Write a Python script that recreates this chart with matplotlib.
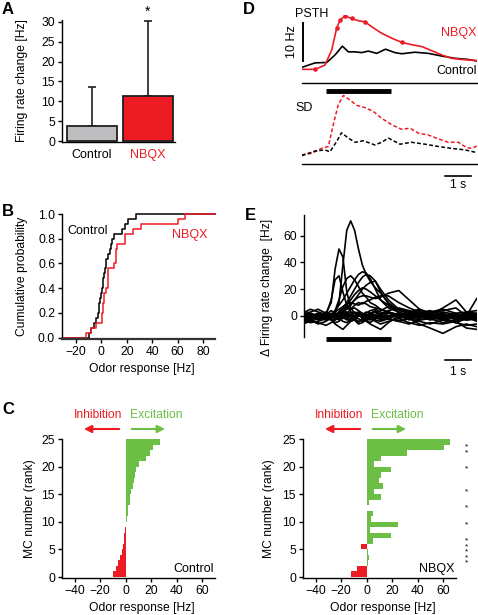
import numpy as np
import matplotlib
matplotlib.use('Agg')
import matplotlib.pyplot as plt

plt.rcParams['font.family'] = ['Liberation Sans', 'DejaVu Sans']
plt.rcParams['font.size'] = 8.7
plt.rcParams['axes.linewidth'] = 1.0
plt.rcParams['xtick.major.width'] = 1.0
plt.rcParams['ytick.major.width'] = 1.0
plt.rcParams['xtick.major.size'] = 3
plt.rcParams['ytick.major.size'] = 3

RED = '#ED1C24'
GREEN = '#6CBE45'
GREY = '#BEBEC0'

# ---- data ----
# A: mean firing rate change + upper error
groups = ['Control', 'NBQX']
rate_mean = [3.8, 11.3]
rate_err = [9.9, 19.0]

# C (and B): odor responses per MC, ranked by control response
ctrl_resp = [-10, -8, -6, -4.5, -3, -2, -1.5, -1, -0.5, 0.3, 1, 1.5, 2, 3,
             3.5, 4, 5.5, 6.5, 7.5, 8, 10, 16, 19, 21, 27]
nbqx_resp = [-12.3, -8, 0.8, 2, 1, -4.6, 4.9, 18.7, 2.3, 24.6, 3.3, 4.9, 0.3,
             1.5, 11.3, 5.4, 12.5, 9.7, 11.5, 19, 5.4, 11.5, 31.5, 60.4, 65.5]
nbqx_sig_rank = [2, 3, 4, 5, 6, 9, 12, 15, 19, 22, 23]

# D: PSTH and SD (Hz) vs time (s, odor onset at 0)
ctrl_t = [-0.93, -0.42, 0.03, 0.35, 0.63, 0.86, 1.12, 1.37, 1.63, 1.95, 2.29,
          2.65, 2.91, 3.42, 3.94, 4.45, 4.96, 5.47, 5.8]
ctrl_psth = [4.1, 5.3, 5.4, 7.4, 9.7, 8.2, 8.2, 8.0, 8.4, 7.8, 8.9, 8.0, 7.7,
             8.1, 7.8, 7.1, 6.5, 6.2, 5.8]
nbqx_t = [-0.93, -0.42, -0.04, 0.22, 0.41, 0.54, 0.73, 0.99, 1.24, 1.5, 1.76,
          2.14, 2.53, 2.91, 3.29, 3.68, 4.07, 4.45, 4.83, 5.22, 5.8]
nbqx_psth = [3.6, 3.6, 4.7, 8.7, 14.4, 16.6, 17.6, 17.0, 16.4, 16.1, 14.8,
             13.1, 11.8, 10.7, 10.1, 9.6, 8.5, 7.4, 6.5, 6.2, 5.9]
nbqx_sig_idx = [1, 4, 5, 6, 7, 9, 13]
sd_n_t = [-0.93, -0.55, -0.17, 0.09, 0.28, 0.47, 0.67, 0.92, 1.18, 1.5, 1.82,
          2.14, 2.53, 2.91, 3.23, 3.55, 3.94, 4.32, 4.7, 5.09, 5.41, 5.6, 5.8]
sd_nbqx = [2.4, 2.8, 4.1, 4.6, 10.3, 15.5, 18.0, 16.8, 15.4, 14.8, 13.8, 12.0,
           10.3, 9.1, 9.4, 8.1, 7.6, 6.6, 5.7, 5.7, 4.3, 4.1, 4.7]
sd_c_t = [-0.93, -0.42, -0.04, 0.15, 0.41, 0.6, 0.86, 1.12, 1.44, 1.88, 2.14,
          2.4, 2.85, 3.29, 3.81, 4.32, 4.83, 5.35, 5.8]
sd_ctrl = [2.2, 3.4, 3.7, 3.2, 5.9, 8.2, 6.8, 5.7, 6.1, 5.0, 5.7, 6.8, 5.2,
           5.7, 5.2, 4.6, 4.1, 3.7, 3.0]
stim = [0, 2.5]

# E: individual MC firing rate change traces
e_t = [-0.9, -0.6, -0.3, 0.0, 0.2, 0.35, 0.5, 0.65, 0.8, 0.95, 1.1, 1.25, 1.4,
       1.55, 1.7, 1.9, 2.1, 2.4, 2.8, 3.2, 3.6, 4.0, 4.5, 5.0, 5.4, 5.8]
e_traces = [
    [-2, 0, -3, -1, 0, 3, 10, 38, 64, 71, 64, 50, 38, 31, 26, 21, 17, 10, 4, 2, 0, -2, 1, -1, -3, -2],
    [1, -2, 0, 2, 10, 35, 50, 44, 18, 6, 2, 3, 0, -2, 1, 3, 0, -1, 2, -3, 0, 1, -2, 0, 2, -1],
    [3, 0, -2, 1, 12, 27, 30, 18, 8, 3, 0, 2, -1, 0, 2, -2, 1, 3, -2, 0, 2, -1, 1, -3, 0, 2],
    [-3, -1, 2, 0, 1, 4, 8, 12, 17, 22, 27, 31, 33, 32, 28, 20, 12, 6, 3, 0, -2, 1, 0, 2, -1, -4],
    [0, 2, -1, -3, -2, 1, 3, 6, 10, 15, 20, 25, 29, 31, 30, 26, 18, 9, 2, -1, 3, 0, -3, -5, -2, 0],
    [2, -1, 0, -2, 0, 4, 12, 22, 28, 30, 27, 22, 17, 14, 10, 8, 5, 3, 0, -2, 1, 0, 3, 1, -1, 0],
    [-1, 1, -2, 0, 2, -1, 0, 3, 6, 9, 12, 14, 15, 15, 14, 13, 14, 17, 19, 12, 5, 2, 0, -2, 1, -3],
    [0, -3, -1, 1, -2, 0, 2, 4, 6, 5, 8, 10, 9, 11, 12, 14, 15, 15, 10, 6, 3, 1, -1, 0, 2, -1],
    [-4, -2, 0, -1, 1, -2, 0, 2, 0, -3, -1, 2, 0, -2, 1, 0, -1, 2, 0, 3, 5, 2, 4, 6, 0, 13],
    [-3, -5, -4, -2, -3, -6, -8, -10, -7, -4, -2, 0, 2, 0, -1, 1, -2, 0, 2, -1, 0, -3, -1, 1, 0, -2],
    [1, 0, -2, -1, 0, 2, 1, -1, -3, -2, 0, 1, -2, -4, -6, -8, -10, -5, 0, 2, 1, -1, -3, 0, 2, 1],
    [-1, 2, 0, 1, -1, 0, 2, 3, 1, 0, -2, 0, 1, 3, 2, 0, -1, -2, -4, -2, -6, -9, -13, -8, -6, -8],
    [0, 1, -1, 0, 1, 3, 5, 7, 9, 10, 9, 8, 10, 9, 7, 6, 5, 3, 1, 0, -1, 2, 0, -1, 1, 0],
    [2, 0, 1, -1, 0, 1, 2, 4, 8, 12, 16, 19, 21, 20, 18, 15, 12, 8, 5, 3, 1, 0, -1, 2, 0, 1],
    [0, -2, 1, 0, -1, 2, 1, 3, 5, 8, 12, 16, 20, 23, 25, 26, 20, 12, 5, 1, -1, 0, 2, -1, 0, 1],
    [4, 2, -1, -3, -2, 0, 3, 5, 2, 0, -2, -4, -3, 0, 2, 4, 1, -2, -4, -1, 2, 4, 1, -1, -3, -2],
    [-5, -3, -6, -4, -1, 1, -2, -4, -5, -3, 0, 2, 0, -3, -5, -2, 1, 3, 0, -2, -4, -6, -3, -5, -7, -6],
    [0, 3, 5, 2, 0, -1, 1, 0, -2, 1, 3, 1, -1, 2, 4, 5, 3, 0, -1, 2, 4, 3, 5, 2, 3, 4],
    [-2, -4, -2, 0, -3, -5, -4, -1, 1, -1, -3, -5, -2, 1, 0, -3, -4, -2, 1, -1, -3, -2, -5, -3, -1, -3],
    [2, 5, 3, 1, 4, 2, 0, -2, 0, 3, 2, 0, 1, -1, -3, -1, 2, 4, 6, 4, 2, 1, 6, 12, 3, 2],
    [-6, -4, -5, -7, -5, -3, -1, 0, -2, -4, -3, -6, -5, -3, -2, -4, -6, -4, -2, -5, -7, -5, -6, -4, -9, -10],
    [1, -1, 0, 3, 1, -1, -3, -1, 2, 5, 6, 4, 2, 0, -1, 1, 4, 7, 5, 2, 0, -2, 0, 1, -1, 0],
    [-3, 0, 2, 0, -2, -3, -1, 1, 3, 1, -1, -2, -4, -2, 0, -1, -3, -2, -4, -6, -3, -1, -2, -4, -2, 1],
]

W, H = 478, 615
fig = plt.figure(figsize=(W / 100, H / 100), dpi=100)


def px_axes(x0, y0, x1, y1):
    return fig.add_axes([x0 / W, 1 - y1 / H, (x1 - x0) / W, (y1 - y0) / H])


def ftext(x, y, s, **kw):
    fig.text(x / W, 1 - y / H, s, **kw)


def clean(ax, left=True, bottom=True):
    ax.spines['top'].set_visible(False)
    ax.spines['right'].set_visible(False)
    ax.spines['left'].set_visible(left)
    ax.spines['bottom'].set_visible(bottom)
    ax.tick_params(direction='out', pad=2)


# ---- A ----
axA = px_axes(62, 20, 175, 142)
clean(axA)
axA.bar([0, 1], rate_mean, width=0.9, color=[GREY, RED], edgecolor='#231F20',
        linewidth=1.3, zorder=2)
axA.errorbar([0, 1], rate_mean, yerr=[[0, 0], rate_err], fmt='none', ecolor='#231F20',
             elinewidth=1.2, capsize=3, capthick=1.2, zorder=1)
axA.text(1, rate_mean[1] + rate_err[1] + 0.6, '*', ha='center', va='bottom', fontsize=10)
axA.set_xlim(-0.54, 1.49)
axA.set_ylim(-0.25, 30.5)
axA.set_yticks([0, 5, 10, 15, 20, 25, 30])
axA.set_xticks([0, 1])
axA.set_xticklabels(groups, fontsize=9)
axA.tick_params(axis='x', length=0, pad=5)
axA.get_xticklabels()[1].set_color(RED)
axA.set_ylabel('Firing rate change [Hz]')
axA.yaxis.set_label_coords(-0.30, 0.5)

# ---- B ----
axB = px_axes(62, 214, 215, 339)
clean(axB)
axB.spines['bottom'].set_linewidth(1.6)
axB.spines['bottom'].set_color('#333333')
xlo, xhi = -31, 89.5
for vals, col in [(ctrl_resp, 'black'), (nbqx_resp, RED)]:
    v = np.sort(vals)
    n = len(v)
    xs = np.concatenate([[xlo], v, [xhi]])
    ys = np.concatenate([[0], np.arange(1, n + 1) / n, [1]])
    axB.step(xs, ys, where='post', color=col, lw=1.1, clip_on=False)
axB.set_xlim(xlo, xhi)
axB.set_ylim(-0.011, 1.0)
axB.set_xticks([-20, 0, 20, 40, 60, 80])
axB.set_yticks([0, 0.2, 0.4, 0.6, 0.8, 1.0])
axB.set_yticklabels(['0.0', '0.2', '0.4', '0.6', '0.8', '1.0'])
axB.set_xlabel('Odor response [Hz]')
axB.xaxis.set_label_coords(0.52, -0.19)
axB.set_ylabel('Cumulative probability')
axB.yaxis.set_label_coords(-0.222, 0.5)
axB.text(-27, 0.86, 'Control', va='center', fontsize=9)
axB.text(70, 0.83, 'NBQX', color=RED, fontsize=9, ha='center', va='center')

# ---- C ----
def rank_panel(ax, vals, tag, sig=None):
    clean(ax)
    ranks = np.arange(len(vals))
    cols = [GREEN if v >= 0 else RED for v in vals]
    ax.barh(ranks, vals, height=1.0, align='edge', color=cols, linewidth=0)
    ax.set_xlim(-50, 70)
    ax.set_ylim(-0.18, 25)
    ax.set_xticks([-40, -20, 0, 20, 40, 60])
    ax.set_yticks([0, 5, 10, 15, 20, 25])
    ax.set_xlabel('Odor response [Hz]')
    ax.xaxis.set_label_coords(0.52, -0.17)
    ax.set_ylabel('MC number (rank)')
    ax.text(0.99, 0.065, tag, transform=ax.transAxes, ha='right', va='center', fontsize=9)
    tr = ax.get_xaxis_transform()
    ax.annotate('', xy=(-35, 1.072), xytext=(-3, 1.072), xycoords=tr, textcoords=tr,
                arrowprops=dict(arrowstyle='-|>', color=RED, lw=1.5, mutation_scale=11))
    ax.annotate('', xy=(33, 1.072), xytext=(2.5, 1.072), xycoords=tr, textcoords=tr,
                arrowprops=dict(arrowstyle='-|>', color=GREEN, lw=1.5, mutation_scale=11))
    ax.text(-22, 1.173, 'Inhibition', color=RED, transform=tr, ha='center', va='center')
    ax.text(24, 1.173, 'Excitation', color=GREEN, transform=tr, ha='center', va='center')
    if sig is not None:
        ty = ax.get_yaxis_transform()
        for r in sig:
            ax.text(1.07, r + 0.5, '*', transform=ty, ha='center', va='center', fontsize=6)


axC1 = px_axes(62, 439, 215, 578)
rank_panel(axC1, ctrl_resp, 'Control')
axC1.yaxis.set_label_coords(-0.167, 0.5)
axC2 = px_axes(303, 439, 456, 578)
rank_panel(axC2, nbqx_resp, 'NBQX', nbqx_sig_rank)
axC2.yaxis.set_label_coords(-0.183, 0.5)

# ---- D ----
tlo, thi = -0.923, 5.81
axD1 = px_axes(302, 15, 477, 83)
clean(axD1, left=False)
axD1.plot(ctrl_t, ctrl_psth, color='black', lw=1.2)
axD1.plot(nbqx_t, nbqx_psth, color=RED, lw=1.2)
axD1.plot(np.array(nbqx_t)[nbqx_sig_idx], np.array(nbqx_psth)[nbqx_sig_idx], 'o',
          color=RED, ms=3.3, mew=0)
axD1.set_xlim(tlo, thi)
axD1.set_ylim(0, 17.9)
axD1.set_xticks([])
axD1.set_yticks([])
axD1.plot([-0.885, -0.885], [5.8, 15.8], color='black', lw=1.4, clip_on=False)
axD1.text(5.81, 13.2, 'NBQX', color=RED, ha='right', va='center', fontsize=9)
axD1.text(5.81, 3.2, 'Control', ha='right', va='center', fontsize=9)

axD2 = px_axes(302, 92, 477, 164)
clean(axD2, left=False)
axD2.plot(sd_n_t, sd_nbqx, color=RED, lw=1.1, ls=(0, (2.5, 1.5)))
axD2.plot(sd_c_t, sd_ctrl, color='black', lw=1.1, ls=(0, (2.5, 1.5)))
axD2.plot(stim, [19.2, 19.2], color='black', lw=3.5, clip_on=False, solid_capstyle='butt')
axD2.plot([4.58, 5.58], [-3.2, -3.2], color='black', lw=1.2, clip_on=False)
axD2.text(5.08, -5.6, '1 s', ha='center', va='center')
axD2.set_xlim(tlo, thi)
axD2.set_ylim(0, 18.9)
axD2.set_xticks([])
axD2.set_yticks([])

ftext(295, 14, 'PSTH', va='center', fontsize=9)
ftext(295, 108, 'SD', va='center', fontsize=9)
ftext(292, 42, '10 Hz', rotation=90, ha='center', va='center', fontsize=9)

# ---- E ----
axE = px_axes(304, 215, 477, 337)
clean(axE, bottom=False)
for tr_vals in e_traces:
    axE.plot(e_t, tr_vals, color='black', lw=1.2)
axE.set_xlim(-0.846, thi)
axE.set_ylim(-15.7, 75.4)
axE.set_xticks([])
axE.set_yticks([0, 20, 40, 60])
axE.plot(stim, [-17.5, -17.5], color='black', lw=3.5, clip_on=False, solid_capstyle='butt')
axE.plot([4.58, 5.58], [-33.2, -33.2], color='black', lw=1.2, clip_on=False)
axE.text(5.08, -41.6, '1 s', ha='center', va='center')
axE.set_ylabel('\u0394 Firing rate change  [Hz]')
axE.yaxis.set_label_coords(-0.18, 0.41)

# panel letters
for lab, x, y in [('A', 2, 2), ('B', 2, 204), ('C', 2, 402), ('D', 243, 2), ('E', 245, 208)]:
    ftext(x, y, lab, fontsize=12, fontweight='bold', va='top')

fig.savefig('out.png', dpi=100)
